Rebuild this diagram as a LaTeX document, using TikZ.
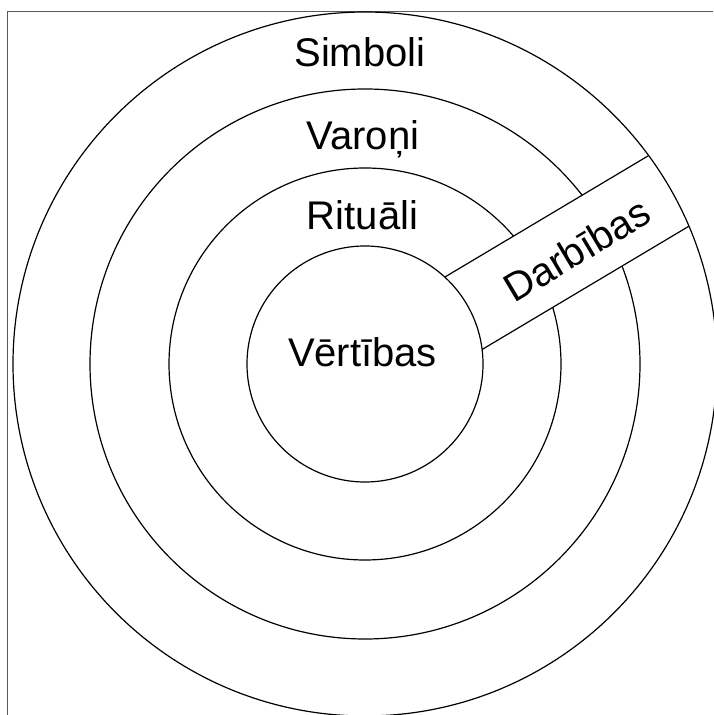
\documentclass[tikz,border=0pt]{standalone}
\usepackage{fontspec}
\setmainfont{Liberation Sans}
\usepackage{tikz}
\def\largeur{713}
\def\hauteur{715}
\def\bandangle{30.8}

\begin{document}
\begin{tikzpicture}[x=1pt, y=1pt, ring/.style={line width=1.2pt, black}, ringtext/.style={font=\fontsize{40}{48}\selectfont, inner sep=0pt}]
	\useasboundingbox (0,0) rectangle (\largeur,\hauteur);
	%\draw[step=50, black!10] (0,0) grid (\largeur,\hauteur);
	\draw[line width=1pt, black!65] (7.5,0) -- (7.5,703.5) -- (\largeur,703.5);
	\coordinate (c) at (365,351);
	\draw[ring] (c) circle (275);
	\draw[ring] (c) circle (196);
	\begin{scope}[shift={(365,351)}, rotate=\bandangle, even odd rule]
		\clip (0,0) circle (352) (0,0) circle (118);
		\fill[white] (0,-47.5) rectangle (400,33.8);
		\draw[ring] (0,-47.5) -- (400,-47.5) (0,33.8) -- (400,33.8);
	\end{scope}
	\draw[ring] (c) circle (352);
	\draw[ring] (c) circle (118);
	\node[ringtext, anchor=base] (simboli) at (360,648) {Simboli};
	\node[ringtext, anchor=base] (varoni) at (363,565) {Varoņi};
	\node[ringtext, anchor=base] (rituali) at (362.5,485) {Rituāli};
	\node[ringtext, anchor=base] (vertibas) at (362.5,348) {Vērtības};
	\node[ringtext, rotate=\bandangle] (darbibas) at (577,465) {Darbības};
\end{tikzpicture}
\end{document}
